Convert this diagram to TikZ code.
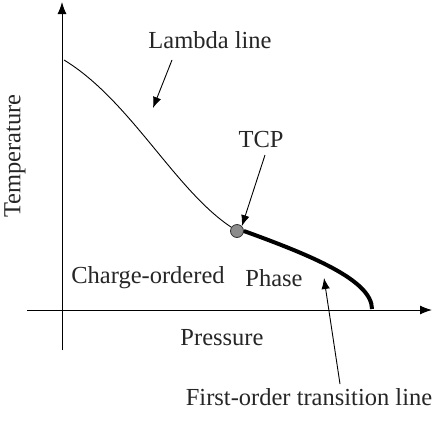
\documentclass[tikz,border=0pt]{standalone}
\usepackage{fontspec}
\setmainfont{Liberation Serif}
\usetikzlibrary{arrows.meta}
\begin{document}
\begin{tikzpicture}[x=1pt,y=-1pt,
  lbl/.style={inner sep=0pt,text=black!85,font=\fontsize{24.5}{28}\selectfont},
  axis/.style={line width=1pt,-{Latex[length=12pt,width=9pt]}},
  ptr/.style={line width=0.9pt,-{Latex[length=11pt,width=8.5pt]}}]
\useasboundingbox (0,0) rectangle (436,421);
% axes
\coordinate (yb) at (62,350);
\coordinate (yt) at (62,2);
\coordinate (xl) at (27,310);
\coordinate (xr) at (432,310);
\draw[axis] (yb) -- (yt);
\draw[axis] (xl) -- (xr);
% lambda line
\coordinate (l0) at (64,60);
\node[circle,draw=black!80,fill=black!45,line width=0.8pt,minimum size=13pt,inner sep=0pt] (tcp) at (237,231) {};
\draw[line width=0.9pt] (l0) .. controls (130,100) and (175,190) .. (tcp);
% first-order line
\coordinate (f1) at (372,309);
\draw[line width=4pt] (tcp.east) .. controls (310,255) and (372,280) .. (f1);
% labels
\node[lbl] (lam) at (210,40) {Lambda line};
\node[lbl] (tcpl) at (261,140) {TCP};
\node[lbl] (cop) at (148,278) {Charge-ordered};
\node[lbl] (ph) at (274,278) {Phase};
\node[lbl] (pr) at (222,338) {Pressure};
\node[lbl] (fo) at (309,397) {First-order transition line};
\node[lbl,rotate=90] (te) at (15,156) {Temperature};
% pointers
\coordinate (la) at (153,108);
\draw[ptr] (172,60) -- (la);
\draw[ptr] (265,155) -- (tcp.north east);
\coordinate (fa) at (324,278);
\draw[ptr] (340,384) -- (fa);
\end{tikzpicture}
\end{document}
